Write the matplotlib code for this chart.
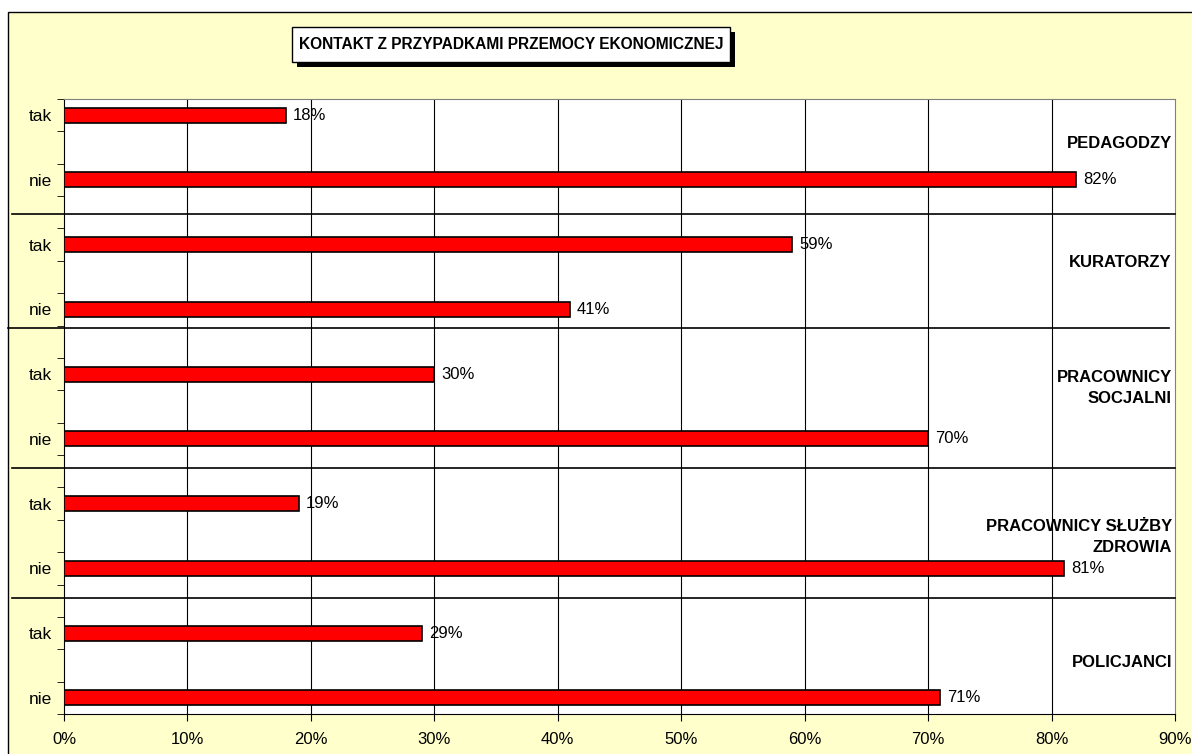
import numpy as np
import matplotlib
matplotlib.use('Agg')
import matplotlib.pyplot as plt
from matplotlib.patches import Rectangle
from matplotlib.transforms import blended_transform_factory

plt.rcParams['font.family'] = ['Liberation Sans', 'DejaVu Sans']

# data
groups = ['PEDAGODZY', 'KURATORZY', 'PRACOWNICY\nSOCJALNI',
          'PRACOWNICY SŁUŻBY\nZDROWIA', 'POLICJANCI']
answers = ['tak', 'nie']
tak_vals = [18, 59, 30, 19, 29]
nie_vals = [82, 41, 70, 81, 71]
xticks_pct = [0, 10, 20, 30, 40, 50, 60, 70, 80, 90]
title = 'KONTAKT Z PRZYPADKAMI PRZEMOCY EKONOMICZNEJ'

W, H = 1192, 754
fig = plt.figure(figsize=(W / 100, H / 100), dpi=100)
fig.patch.set_facecolor('white')

def fx(px):
    return px / W

def fy(py):
    return 1 - py / H

# chart area background
fig.patches.append(Rectangle((fx(8), -0.1), 1.2, fy(12) + 0.1, transform=fig.transFigure,
                             facecolor='#FFFFCC', edgecolor='black', lw=1, zorder=-1))

ax = fig.add_axes([fx(64), fy(714), fx(1175) - fx(64), fy(99) - fy(714)])
ax.set_zorder(1)
ax.set_facecolor('white')

# bars: each group -> tak, blank, nie, blank (Excel layout)
vals, labels, pos = [], [], []
for i in range(len(groups)):
    for j, v in enumerate([tak_vals[i], nie_vals[i]]):
        vals.append(v)
        labels.append(answers[j])
        pos.append(4 * i + 2 * j)
vals = np.array(vals)
pos = np.array(pos)

ax.barh(pos, vals, height=0.46, color='#FF0000', edgecolor='black', lw=1.2, zorder=3)
for p, v in zip(pos, vals):
    ax.annotate(f'{v}%', (v, p), xytext=(7, 0), textcoords='offset pixels',
                va='center', ha='left', fontsize=12, zorder=4)

ax.set_xlim(0, 90)
ax.set_ylim(18.5, -0.5)
ax.set_xticks(xticks_pct)
ax.set_xticklabels([f'{t}%' for t in xticks_pct], fontsize=12)
ax.set_yticks(pos)
ax.set_yticklabels(labels, fontsize=12.5)
ax.set_yticks(np.arange(-0.5, 19, 1), minor=True)
ax.tick_params(axis='y', which='major', length=0, pad=8.5)
ax.tick_params(axis='y', which='minor', length=5, direction='out', color='black')
ax.tick_params(axis='x', length=5, direction='out', pad=8)

for x in xticks_pct[1:-1]:
    ax.axvline(x, color='black', lw=0.8, zorder=1)

for s in ['top', 'right']:
    ax.spines[s].set_color('#808080')
for s in ['left', 'bottom']:
    ax.spines[s].set_color('black')

# group separators and labels
tr = blended_transform_factory(fig.transFigure, ax.transData)
sep_y = [3.04, 6.57, 10.89, 14.91]
sep_x = [(12, 1175), (8, 1169), (12, 1175), (12, 1175)]
for y, (x0, x1) in zip(sep_y, sep_x):
    ax.plot([fx(x0), fx(x1)], [y, y], color='black', lw=1.2, transform=tr,
            clip_on=False, zorder=5)

label_y = [0.86, 4.54, 8.43, 13.03, 16.92]
for g, y in zip(groups, label_y):
    ax.text(fx(1172), y, g, transform=tr, ha='right', va='center', fontsize=12,
            fontweight='bold', linespacing=1.55, zorder=6)

# title box with shadow
bx0, by0, bx1, by1 = 292, 27, 730, 62
fig.patches.append(Rectangle((fx(bx0 + 5), fy(by1 + 5)), fx(bx1) - fx(bx0), fy(by0) - fy(by1),
                             transform=fig.transFigure, facecolor='black', edgecolor='black',
                             lw=0, zorder=2))
fig.patches.append(Rectangle((fx(bx0), fy(by1)), fx(bx1) - fx(bx0), fy(by0) - fy(by1),
                             transform=fig.transFigure, facecolor='white', edgecolor='black',
                             lw=1, zorder=3))
fig.text(fx((bx0 + bx1) / 2), fy((by0 + by1) / 2), title, ha='center', va='center',
         fontsize=11.2, fontweight='bold', zorder=4)

fig.savefig('out.png', dpi=100)
